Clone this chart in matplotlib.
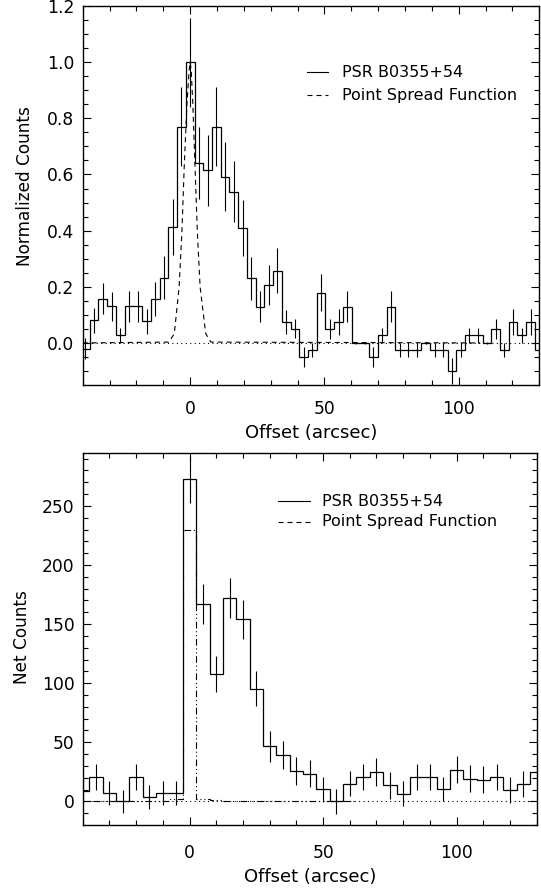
import numpy as np
import matplotlib
matplotlib.use('Agg')
import matplotlib.pyplot as plt
from matplotlib.ticker import MultipleLocator, FormatStrFormatter

plt.rcParams['font.family'] = ['DejaVu Sans']

# ---- gorny panel: profil znormalizowany (biny 3.25")
top_width = 3.25
top_centers = np.arange(-12, 41) * top_width
top_counts = [-0.02, 0.08, 0.157, 0.13, 0.027, 0.13, 0.13, 0.077, 0.157, 0.232,
              0.412, 0.77, 1.0, 0.641, 0.615, 0.77, 0.592, 0.539, 0.41, 0.23,
              0.129, 0.206, 0.257, 0.075, 0.051, -0.05, -0.026, 0.179, 0.051, 0.075,
              0.129, 0.0, 0.0, -0.05, 0.027, 0.129, -0.026, -0.026, -0.026, 0.0,
              -0.026, -0.026, -0.1, -0.026, 0.027, 0.027, 0.0, 0.051, -0.026, 0.075,
              0.027, 0.075, -0.026]
top_err = [0.036, 0.045, 0.055, 0.053, 0.027, 0.055, 0.056, 0.045, 0.061, 0.077,
           0.1, 0.14, 0.158, 0.127, 0.126, 0.14, 0.122, 0.11, 0.1, 0.077,
           0.055, 0.07, 0.08, 0.043, 0.035, 0.036, 0.025, 0.067, 0.036, 0.045,
           0.055, 0.003, 0.003, 0.036, 0.027, 0.056, 0.025, 0.025, 0.025, 0.003,
           0.025, 0.025, 0.045, 0.025, 0.027, 0.027, 0.003, 0.036, 0.025, 0.045,
           0.027, 0.045, 0.025]

# PSF
psf_x = [-40, -7.9, -5.9, -4.1, -3.1, -2.2, -1.2, -0.4, 0, 0.4, 1.0, 1.8, 2.7, 3.7, 5.8, 7.7, 108]
psf_y = [0, 0.003, 0.033, 0.2, 0.39, 0.63, 0.85, 0.97, 1.0, 0.97, 0.85, 0.63, 0.39, 0.2, 0.033, 0.003, 0]

# ---- dolny panel: zliczenia netto (biny 5")
bot_width = 5.0
bot_centers = np.arange(-8, 27) * bot_width
bot_counts = [8.8, 20.6, 7, 0, 20.6, 3.7, 7, 7, 272.6, 167,
              107.6, 172, 154, 95.5, 46.6, 39.5, 25.7, 23.4, 10.2, 0,
              15, 20.6, 24.6, 13.6, 6.5, 20.6, 20.6, 10.2, 26.8, 19.2,
              18.4, 20.6, 9.3, 15, 24.6]
bot_err = [10, 11.3, 10, 9.6, 11.3, 10, 10, 10, 20, 17,
           15, 17, 16.5, 14.7, 13, 12, 11.7, 11.3, 10.4, 10.3,
           10.5, 11.3, 11.7, 11.3, 10.6, 11.3, 11.3, 10.2, 11.6, 11.6,
           11.3, 11.3, 11, 11, 11.7]

psf_bot_centers = np.arange(-8, 13) * bot_width
psf_bot = [0, 0, 0, 0, 0, 0, 0.6, 2.0, 229.7, 2.3,
           0.8, 0.3, 0, 0, 0, 0, 0, 0, 0, 0, 0]

legend_labels = ['PSR B0355+54', 'Point Spread Function']

DASH = (0, (4.5, 3.6))
DOT = (0, (1, 3))
DASHDOTDOT = (0, (6, 2.5, 1, 2.5, 1, 2.5))


def edges_from(centers, width):
    c = np.asarray(centers, dtype=float)
    return np.append(c - width / 2, c[-1] + width / 2)


def style_axis(ax):
    ax.tick_params(which='both', direction='in', top=True, right=True,
                   width=0.8, labelsize=12.3)
    ax.tick_params(which='major', length=6.1)
    ax.tick_params(which='minor', length=3.4)
    ax.tick_params(axis='y', pad=6)
    for s in ax.spines.values():
        s.set_linewidth(1.0)
    ax.set_xlim(-40, 130)
    ax.xaxis.set_major_locator(MultipleLocator(50))
    ax.xaxis.set_minor_locator(MultipleLocator(10))
    ax.xaxis.set_major_formatter(FormatStrFormatter('%d'))


def podpisy(ax, ylabel, xy_x, xy_y):
    ax.set_xlabel('Offset (arcsec)', fontsize=13)
    ax.set_ylabel(ylabel, fontsize=12.2)
    ax.xaxis.label.set_verticalalignment('center')
    ax.yaxis.label.set_verticalalignment('center')
    ax.xaxis.set_label_coords(*xy_x)
    ax.yaxis.set_label_coords(*xy_y)


def legenda(ax, x0, x1, xt, y0, y1):
    ax.plot([x0, x1], [y0, y0], color='k', lw=0.8, transform=ax.transAxes)
    ax.plot([x0, x1], [y1, y1], color='k', lw=0.8, ls=DASH, transform=ax.transAxes)
    ax.text(xt, y0, legend_labels[0], fontsize=11.5, va='center', transform=ax.transAxes)
    ax.text(xt, y1, legend_labels[1], fontsize=11.5, va='center', transform=ax.transAxes)


fig = plt.figure(figsize=(5.41, 8.88), dpi=100)
ax1 = fig.add_axes([0.1529, 0.5664, 0.844, 0.4268])
ax2 = fig.add_axes([0.1529, 0.0709, 0.8392, 0.4193])

# gorny
ax1.stairs(top_counts, edges_from(top_centers, top_width), baseline=None, color='k', lw=0.9)
ax1.errorbar(top_centers, top_counts, yerr=top_err, fmt='none', ecolor='k', elinewidth=0.8)
ax1.plot(psf_x, psf_y, color='k', lw=0.8, ls=DASH)
ax1.axhline(0, color='k', lw=0.8, ls=DOT)
style_axis(ax1)
ax1.set_ylim(-0.15, 1.2)
ax1.yaxis.set_major_locator(MultipleLocator(0.2))
ax1.yaxis.set_minor_locator(MultipleLocator(0.05))
ax1.yaxis.set_major_formatter(FormatStrFormatter('%.1f'))
ax1.tick_params(axis='x', pad=11)
podpisy(ax1, 'Normalized Counts', (0.5, -0.1253), (-0.1264, 0.524))
legenda(ax1, 0.4906, 0.538, 0.567, 0.825, 0.764)

# dolny
ax2.stairs(bot_counts, edges_from(bot_centers, bot_width), baseline=None, color='k', lw=0.9)
ax2.errorbar(bot_centers, bot_counts, yerr=bot_err, fmt='none', ecolor='k', elinewidth=0.8)
ax2.stairs(psf_bot, edges_from(psf_bot_centers, bot_width), baseline=None, color='k',
           lw=0.8, ls=DASHDOTDOT)
ax2.axhline(0, color='k', lw=0.8, ls=DOT)
style_axis(ax2)
ax2.set_ylim(-20, 295)
ax2.yaxis.set_major_locator(MultipleLocator(50))
ax2.yaxis.set_minor_locator(MultipleLocator(10))
ax2.yaxis.set_major_formatter(FormatStrFormatter('%d'))
ax2.tick_params(axis='x', pad=14)
podpisy(ax2, 'Net Counts', (0.5, -0.1397), (-0.134, 0.504))
legenda(ax2, 0.431, 0.5, 0.5264, 0.869, 0.814)

fig.savefig('out.png', dpi=100)
